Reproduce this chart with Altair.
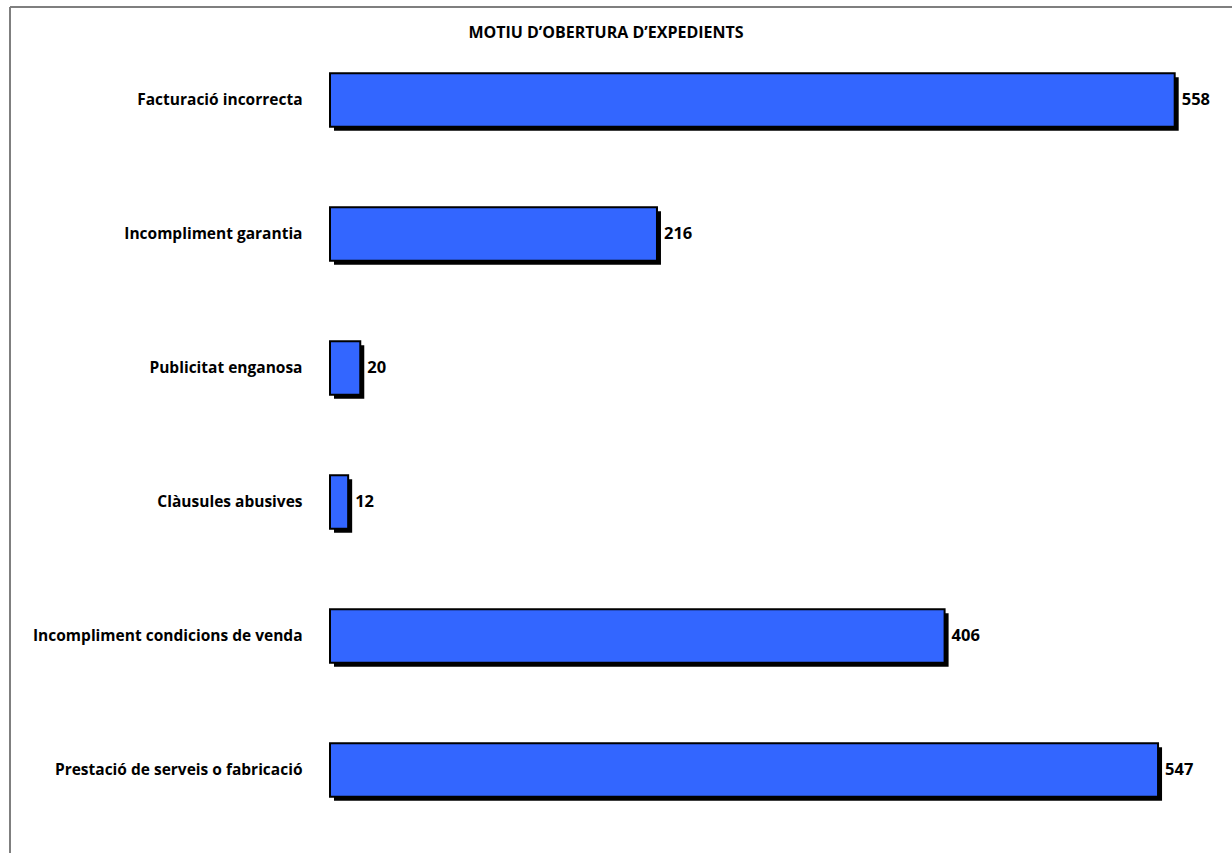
import altair as alt
import pandas as pd

# Reasons for opening complaint files, top to bottom
motius = [
    "Facturació incorrecta",
    "Incompliment garantia",
    "Publicitat enganosa",
    "Clàusules abusives",
    "Incompliment condicions de venda",
    "Prestació de serveis o fabricació",
]
expedients = [558, 216, 20, 12, 406, 547]

titol = "MOTIU D\u2019OBERTURA D\u2019EXPEDIENTS"

df = pd.DataFrame({"motiu": motius, "n": expedients})

FONT = "Open Sans"
W, H = 878, 804
PAD_L, PAD_T = 330, 33

x_enc = alt.X("n:Q", scale=alt.Scale(domain=[0, 580], nice=False), axis=None)
y_enc = alt.Y(
    "motiu:N",
    sort=motius,
    scale=alt.Scale(paddingInner=0.6, paddingOuter=0.3),
    axis=alt.Axis(
        title=None, domain=False, ticks=False, grid=False,
        labelFont=FONT, labelFontSize=15.5, labelFontWeight="bold",
        labelColor="#000000", labelPadding=28, labelLimit=400,
    ),
)

base = alt.Chart(df)

# drop shadow behind each bar
shadow = base.mark_bar(color="#000000", xOffset=4, yOffset=4).encode(x=x_enc, y=y_enc)

bars = base.mark_bar(color="#3366FF", stroke="#000000", strokeWidth=2).encode(
    x=x_enc, y=y_enc
)

values = base.mark_text(
    align="left", baseline="middle", dx=7, font=FONT, fontSize=16.5,
    fontWeight="bold", color="#000000",
).encode(x=x_enc, y=y_enc, text="n:Q")

title = alt.Chart(pd.DataFrame({"t": [titol]})).mark_text(
    align="center", baseline="middle", font=FONT, fontSize=16,
    fontWeight="bold", color="#000000",
).encode(x=alt.value(606 - PAD_L), y=alt.value(0), text="t:N")

# outer frame: top and left edges
frame_top = alt.Chart(pd.DataFrame({"k": [0]})).mark_rule(
    color="#7f7f7f", strokeWidth=2
).encode(x=alt.value(10 - PAD_L), x2=alt.value(1232 - PAD_L), y=alt.value(7 - PAD_T))
frame_left = alt.Chart(pd.DataFrame({"k": [0]})).mark_rule(
    color="#7f7f7f", strokeWidth=2
).encode(x=alt.value(10 - PAD_L), y=alt.value(7 - PAD_T), y2=alt.value(853 - PAD_T))

chart = (
    alt.layer(frame_top, frame_left, title, shadow, bars, values)
    .properties(
        width=W, height=H,
        autosize=alt.AutoSizeParams(type="none"),
        padding={"left": PAD_L, "top": PAD_T, "right": 1232 - PAD_L - W, "bottom": 853 - PAD_T - H},
        background="#ffffff",
    )
    .configure_view(stroke=None)
)

chart.save("out.html", embed_options={"renderer": "svg", "actions": False})
